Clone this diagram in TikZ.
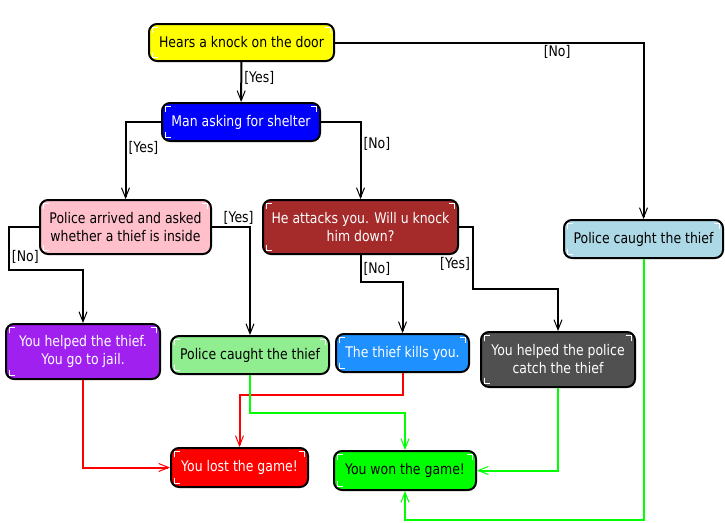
\documentclass[tikz,border=0pt]{standalone}
\usepackage{fontspec}
\setmainfont[FakeStretch=0.85]{DejaVu Sans}
\usepackage{tikz}
\usetikzlibrary{arrows.meta}
\definecolor{dooryellow}{HTML}{FFFF00}
\definecolor{shelterblue}{HTML}{0000FF}
\definecolor{policepink}{HTML}{FFC0CB}
\definecolor{attackbrown}{HTML}{A52A2A}
\definecolor{caughtblue}{HTML}{ADD8E6}
\definecolor{jailpurple}{HTML}{A020F0}
\definecolor{caughtgreen}{HTML}{90EE90}
\definecolor{killsblue}{HTML}{1E90FF}
\definecolor{helpedgray}{HTML}{505050}
\definecolor{lostred}{HTML}{FF0000}
\definecolor{wonlime}{HTML}{00FF00}

\begin{document}
\begin{tikzpicture}[x=0.75pt,y=-0.75pt,
    every node/.style={font=\fontsize{11}{13.5}\selectfont},
    corners/.style={path picture={
        \draw[white,line width=0.6pt,sharp corners]
        ([shift={(2.5pt,-7pt)}]path picture bounding box.north west) -- ++(0,4.5pt) -- ++(4.5pt,0)
        ([shift={(-7pt,-2.5pt)}]path picture bounding box.north east) -- ++(4.5pt,0) -- ++(0,-4.5pt)
        ([shift={(2.5pt,7pt)}]path picture bounding box.south west) -- ++(0,-4.5pt) -- ++(4.5pt,0);}},
    state/.style={draw=black, line width=1.5pt, rounded corners=6pt,
        align=center, inner sep=2pt, corners},
    sz/.style 2 args={minimum width=#1*0.75pt, minimum height=#2*0.75pt},
    lbl/.style={inner sep=1.5pt},
    arr/.style={line width=1.5pt,
        -{Straight Barb[length=7.5pt,width=6pt,line width=0.75pt]}}]

    \useasboundingbox (0,0) rectangle (725,522);

    \node[state, sz={185}{37}, fill=dooryellow] (knock) at (241.5,42.5) {Hears a knock on the door};
    \node[state, sz={158}{38}, fill=shelterblue, text=white] (shelter) at (241,122) {Man asking for shelter};
    \node[state, sz={171}{54}, fill=policepink] (arrived) at (125.5,227) {Police arrived and asked\\whether a thief is inside};
    \node[state, sz={195}{54}, fill=attackbrown, text=white] (attack) at (360.5,227) {He attacks you. Will u knock\\him down?};
    \node[state, sz={159}{38}, fill=caughtblue] (caughtR) at (643.5,239) {Police caught the thief};
    \node[state, sz={154}{55}, fill=jailpurple, text=white] (jail) at (83,351.5) {You helped the thief.\\You go to jail.};
    \node[state, sz={158}{38}, fill=caughtgreen] (caughtL) at (250,355) {Police caught the thief};
    \node[state, sz={133}{38}, fill=killsblue, text=white] (kills) at (402.5,353) {The thief kills you.};
    \node[state, sz={154}{55}, fill=helpedgray, text=white] (helped) at (558,359.5) {You helped the police\\catch the thief};
    \node[state, sz={137}{39}, fill=lostred, text=white] (lost) at (239.5,467.5) {You lost the game!};
    \node[state, sz={142}{39}, fill=wonlime] (won) at (405,470.5) {You won the game!};

    % decisions
    \draw[arr] (knock) -- (shelter) node[lbl, pos=0.4, right] {[Yes]};
    \draw[arr] (knock) -| (caughtR) node[lbl, pos=0.36, below] {[No]};
    \draw[arr] (shelter) -| (arrived) node[lbl, pos=0.67, right] {[Yes]};
    \draw[arr] (shelter) -| (attack) node[lbl, pos=0.64, right] {[No]};
    \draw[arr] (arrived.west) -| ++(-30,43) node[lbl, pos=0.85, right] {[No]} -| (jail);
    \draw[arr] (arrived) -| (caughtL) node[lbl, pos=0.35, above] {[Yes]};
    \draw[arr] (attack.south) -- ++(0,27) node[lbl, midway, right] {[No]} -| (kills);
    \draw[arr] (attack.east) -| ++(14,62) node[lbl, pos=0.8, left] {[Yes]} -| (helped);

    % endings
    \draw[arr, lostred] (jail) |- (lost);
    \draw[arr, lostred] (kills.south) -- ++(0,22) -| (lost);
    \draw[arr, wonlime] (caughtL.south) -- ++(0,38) -| (won);
    \draw[arr, wonlime] (helped) |- (won);
    \draw[arr, wonlime] (caughtR.south) -- ++(0,261) -| (won.south);
    %\draw[help lines,step=50] (0,0) grid (725,522);

\end{tikzpicture}
\end{document}
